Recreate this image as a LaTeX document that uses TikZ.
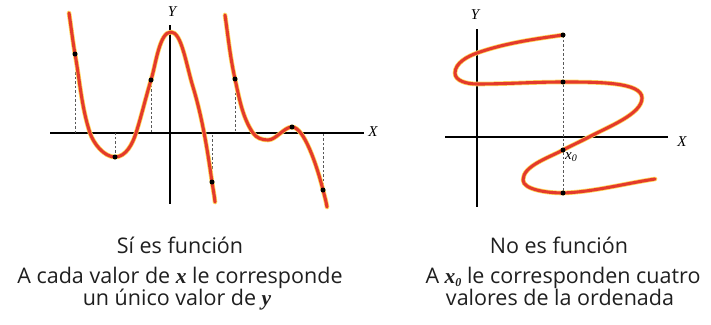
\documentclass[tikz,border=0pt]{standalone}
\usepackage{fontspec}
\setmainfont{Open Sans}
\newfontfamily\serifx{Liberation Serif}
\definecolor{curvered}{RGB}{228,58,44}
\definecolor{curvehl}{RGB}{255,214,90}
\begin{document}
\begin{tikzpicture}[x=1pt,y=-1pt,
  curvehalo/.style={line width=4.6, color=curvehl, line cap=round, line join=round},
  curvemain/.style={line width=3.1, color=curvered, line cap=round, line join=round},
  axisline/.style={line width=1.1, black},
  guide/.style={line width=0.7, gray!70!black, dash pattern=on 2.5pt off 2pt},
  pt/.style={circle, fill=black, inner sep=0pt, minimum size=5pt},
  axlab/.style={font=\serifx\itshape\fontsize{15}{15}\selectfont, inner sep=0pt},
  captext/.style={font=\fontsize{21.5}{21.5}\selectfont, inner sep=0pt, text=black!88, anchor=base},
]
\useasboundingbox (0,0) rectangle (711,324);
% ---------- left graph ----------
\coordinate (LxA) at (50,133); \coordinate (LxB) at (364,133);
\coordinate (LyA) at (170,25); \coordinate (LyB) at (170,204);
\draw[axisline] (LxA) -- (LxB);
\draw[axisline] (LyA) -- (LyB);
\node[axlab] (LX) at (373,132) {X};
\node[axlab] (LY) at (172,12) {Y};
% points
\coordinate (p1) at (75,54);  \coordinate (q1) at (75,133);
\coordinate (p2) at (115,157); \coordinate (q2) at (115,133);
\coordinate (p3) at (151,80); \coordinate (q3) at (151,133);
\coordinate (p4) at (212,182); \coordinate (q4) at (212,133);
\coordinate (p5) at (235,79); \coordinate (q5) at (235,133);
\coordinate (p6) at (292,127);
\coordinate (p7) at (323,190); \coordinate (q7) at (323,133);
\foreach \a/\b in {p1/q1,p2/q2,p3/q3,p4/q4,p5/q5,p7/q7} \draw[guide] (\a) -- (\b);
\foreach \s in {curvehalo,curvemain}{
\draw[\s] (69,13) .. controls (71,26) and (72.7,41.2) .. (p1)
  .. controls (79.8,80.6) and (81.5,107.4) .. (90,133)
  .. controls (93.5,143.4) and (104,157) .. (p2)
  .. controls (126,157) and (132.7,143.5) .. (136,133)
  .. controls (141.4,115.9) and (145.8,97.2) .. (p3)
  .. controls (156,63.5) and (159.5,32) .. (171,32)
  .. controls (181.5,32) and (186,64) .. (193,87)
  .. controls (202.3,117.6) and (207.5,150.3) .. (p4)
  .. controls (213,189) and (214.3,195) .. (215,202);
\draw[\s] (225,15) .. controls (228.1,36.8) and (230.2,57.5) .. (p5)
  .. controls (239.1,97.5) and (242.3,117.3) .. (253,133)
  .. controls (256.4,138) and (262,140) .. (268,140)
  .. controls (276,140) and (284,127) .. (p6)
  .. controls (304,127) and (317,165.8) .. (p7)
  .. controls (324.5,195.8) and (326,201) .. (327,207);
}
\foreach \p in {p1,p2,p3,p4,p5,p6,p7} \node[pt] at (\p) {};
% ---------- right graph ----------
\coordinate (RxA) at (445,137); \coordinate (RxB) at (668,137);
\coordinate (RyA) at (477,29); \coordinate (RyB) at (477,207);
\draw[axisline] (RxA) -- (RxB);
\draw[axisline] (RyA) -- (RyB);
\node[axlab] (RX) at (682,142) {X};
\node[axlab] (RY) at (475,15) {Y};
\coordinate (r1) at (563,35); \coordinate (r2) at (563,82);
\coordinate (r3) at (563,150); \coordinate (r4) at (563,193);
\draw[guide] (r1) -- (r4);
\foreach \s in {curvehalo,curvemain}{
\draw[\s] (r1) .. controls (534.3,39) and (504.3,43.3) .. (477,53)
  .. controls (467.6,56.3) and (455,63) .. (455,73)
  .. controls (455,81) and (467,84) .. (477,84)
  .. controls (506,84) and (534,82) .. (r2)
  .. controls (598,82) and (642,82) .. (642,98)
  .. controls (642,114) and (608.4,126.7) .. (589,137)
  .. controls (581,141.2) and (571,145.8) .. (r3)
  .. controls (548,158) and (523,166) .. (523,180)
  .. controls (523,190) and (549,193) .. (r4)
  .. controls (593,192) and (625,183.5) .. (655,179);
}
\foreach \p in {r1,r2,r3,r4} \node[pt] at (\p) {};
\node[axlab, anchor=west] (x0) at (565,157) {x\raisebox{-0.4ex}{\fontsize{10}{10}\selectfont 0}};
% ---------- captions ----------
\node[captext] (c1) at (180,253) {Sí es función};
\node[captext] (c2) at (180,283) {A cada valor de {\serifx\bfseries\itshape x} le corresponde};
\node[captext] (c3) at (177,305) {un único valor de {\serifx\bfseries\itshape y}};
\node[captext] (c4) at (559,253) {No es función};
\node[captext] (c5) at (563,283) {A {\serifx\bfseries\itshape x\raisebox{-0.4ex}{\fontsize{12}{12}\selectfont 0}} le corresponden cuatro};
\node[captext] (c6) at (560,305) {valores de la ordenada};
\end{tikzpicture}
\end{document}
